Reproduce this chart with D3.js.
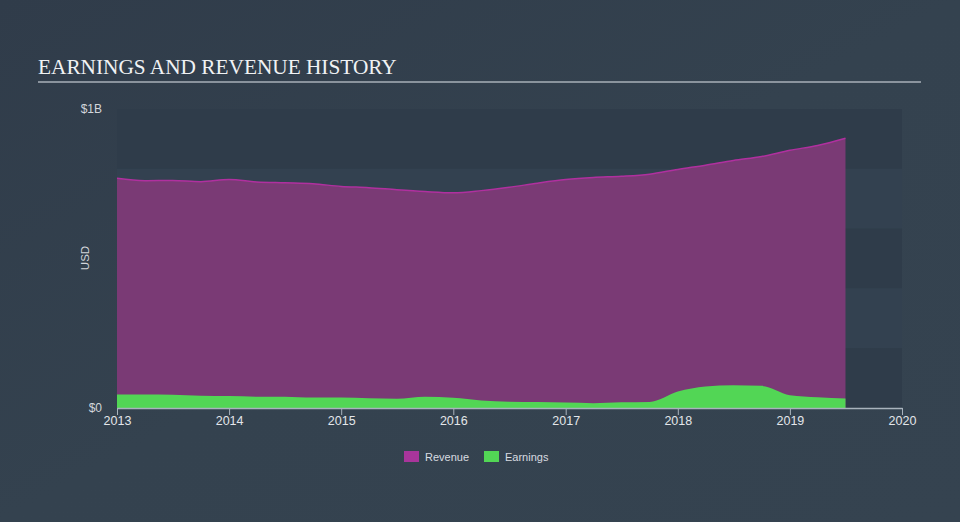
<!DOCTYPE html>
<html>
<head>
<meta charset="utf-8">
<script src="https://cdn.jsdelivr.net/npm/d3@7"></script>
<style>
  html, body { margin: 0; padding: 0; background: #333f4d; }
  svg { display: block; }
</style>
</head>
<body>
<svg id="chart" width="960" height="522"></svg>
<script>
const dates = ["2013-01-01","2013-04-01","2013-07-01","2013-10-01","2014-01-01","2014-04-01","2014-07-01","2014-10-01",
  "2015-01-01","2015-04-01","2015-07-01","2015-10-01","2016-01-01","2016-04-01","2016-07-01","2016-10-01",
  "2017-01-01","2017-04-01","2017-07-01","2017-10-01","2018-01-01","2018-04-01","2018-07-01","2018-10-01",
  "2019-01-01","2019-04-01","2019-07-01"];
const revenue = [0.768,0.760,0.761,0.757,0.764,0.756,0.753,0.750,
  0.741,0.737,0.730,0.724,0.720,0.727,0.738,0.752,
  0.764,0.771,0.775,0.782,0.798,0.812,0.828,0.841,
  0.862,0.878,0.902];
const earnings = [0.045,0.045,0.044,0.041,0.040,0.038,0.038,0.035,
  0.035,0.033,0.031,0.038,0.034,0.025,0.021,0.020,
  0.018,0.016,0.019,0.020,0.055,0.072,0.076,0.074,
  0.043,0.036,0.032];
const yTicks = [0, 1];
const yTickLabels = ["$0", "$1B"];
const xTickYears = [2013,2014,2015,2016,2017,2018,2019,2020];
const seriesNames = ["Revenue", "Earnings"];
const seriesFill = ["#7a3a75", "#52d655"];
const seriesSwatch = ["#a8359b", "#52d655"];

const svg = d3.select("#chart");
const W = 960, H = 522;

// background gradient
const defs = svg.append("defs");
const bg = defs.append("linearGradient").attr("id","bg").attr("x1","0").attr("y1","0").attr("x2","1").attr("y2","1");
bg.append("stop").attr("offset","0%").attr("stop-color","#303c4a");
bg.append("stop").attr("offset","50%").attr("stop-color","#34424f");
bg.append("stop").attr("offset","100%").attr("stop-color","#354350");
svg.append("rect").attr("width",W).attr("height",H).attr("fill","url(#bg)");

const parse = d3.timeParse("%Y-%m-%d");
const data = dates.map((d,i) => ({date: parse(d), rev: revenue[i], earn: earnings[i]}));

const x = d3.scaleTime().domain([new Date(2013,0,1), new Date(2020,0,1)]).range([117, 902]);
const y = d3.scaleLinear().domain([0, 1]).range([408, 109]);

// plot bands
for (let i = 0; i < 5; i++) {
  const top = 1 - i*0.2, bot = 1 - (i+1)*0.2;
  svg.append("rect")
    .attr("x", x.range()[0]).attr("width", x.range()[1]-x.range()[0])
    .attr("y", y(top)).attr("height", y(bot)-y(top))
    .attr("fill", i % 2 === 0 ? "#2f3c4a" : "#334150");
}

// title
svg.append("text").attr("x", 38).attr("y", 74)
  .attr("font-family", "'Liberation Serif', 'DejaVu Serif', serif")
  .attr("font-size", 21.3).attr("fill", "#f0f2f4")
  .text("EARNINGS AND REVENUE HISTORY");
svg.append("line").attr("x1", 38).attr("x2", 921).attr("y1", 82).attr("y2", 82)
  .attr("stroke", "#a9b0b8").attr("stroke-width", 1.5);

const curve = d3.curveMonotoneX;
// revenue area
svg.append("path").datum(data)
  .attr("d", d3.area().x(d => x(d.date)).y0(y(0)).y1(d => y(d.rev)).curve(curve))
  .attr("fill", seriesFill[0]);
svg.append("path").datum(data)
  .attr("d", d3.line().x(d => x(d.date)).y(d => y(d.rev)).curve(curve))
  .attr("fill", "none").attr("stroke", "#b0309f").attr("stroke-width", 1.5);
// earnings area
svg.append("path").datum(data)
  .attr("d", d3.area().x(d => x(d.date)).y0(y(0)).y1(d => y(d.earn)).curve(curve))
  .attr("fill", seriesFill[1]);

// x axis
const xAxis = d3.axisBottom(x)
  .tickValues(xTickYears.map(yr => new Date(yr,0,1)))
  .tickFormat(d3.timeFormat("%Y"))
  .tickSize(7).tickSizeOuter(0);
const gx = svg.append("g").attr("transform", `translate(0,${y(0)})`).call(xAxis);
gx.select(".domain").attr("stroke", "#a9b3bd").attr("stroke-width", 1.5);
gx.selectAll(".tick line").attr("stroke", "#a9b3bd");
gx.selectAll(".tick text").attr("fill", "#e3e6ea").attr("font-size", 12.5)
  .attr("font-family", "'Liberation Sans', Arial, sans-serif").attr("dy", "0.55em");

// y labels
svg.selectAll(".ylab").data(yTicks).enter().append("text")
  .attr("x", 102).attr("y", d => y(d) + 4)
  .attr("text-anchor", "end")
  .attr("font-family", "'Liberation Sans', Arial, sans-serif")
  .attr("font-size", 12).attr("fill", "#d2d6db")
  .text((d,i) => yTickLabels[i]);
svg.append("text")
  .attr("transform", `translate(89,258) rotate(-90)`)
  .attr("text-anchor", "middle")
  .attr("font-family", "'Liberation Sans', Arial, sans-serif")
  .attr("font-size", 11.5).attr("fill", "#d2d6db")
  .text("USD");

// legend
const legendX = [404, 484];
seriesNames.forEach((name, i) => {
  svg.append("rect").attr("x", legendX[i]).attr("y", 451).attr("width", 15).attr("height", 11)
    .attr("fill", seriesSwatch[i]);
  svg.append("text").attr("x", legendX[i] + 21).attr("y", 460.5)
    .attr("font-family", "'Liberation Sans', Arial, sans-serif")
    .attr("font-size", 11).attr("fill", "#d8dce0")
    .text(name);
});
</script>
</body>
</html>
